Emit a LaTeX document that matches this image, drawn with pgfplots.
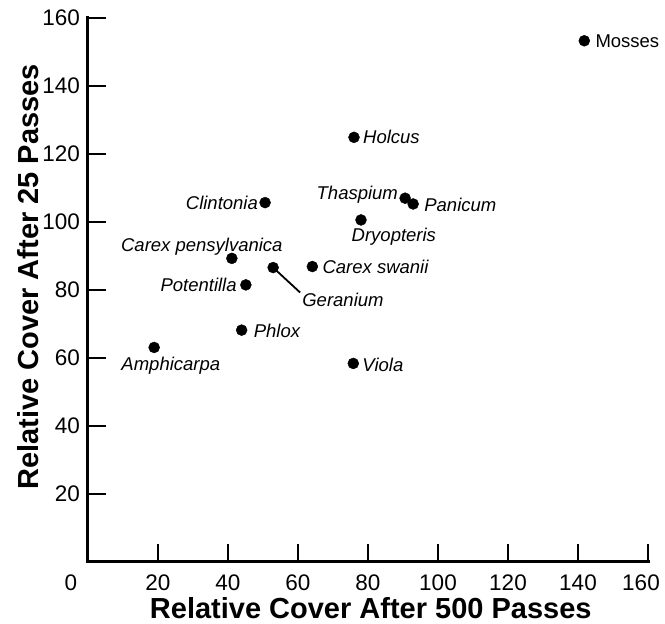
\documentclass[border=0pt]{standalone}
\usepackage{pgfplots}
\pgfplotsset{compat=1.18}
\usepackage{fontspec}
\setmainfont{Liberation Sans}
\tikzset{lbl/.style={font=\fontsize{18.5}{18.5}\selectfont\itshape, inner sep=0pt,
                     text height=13.2pt, text depth=0pt}}
\begin{document}
\begin{tikzpicture}
\useasboundingbox (-88pt,-62pt) rectangle (577pt,562pt);
\begin{axis}[
    scale only axis,
    width=560pt, height=544pt,
    xmin=0, xmax=160,
    ymin=0, ymax=160,
    clip=false,
    axis x line*=bottom,
    axis y line*=left,
    axis line style={line width=3pt, -, line cap=rect},
    xtick={20,40,...,140},
    ytick={20,40,...,160},
    extra x ticks={160},
    extra x tick style={xticklabel style={xshift=-7pt}},
    tick align=inside,
    major tick length=18pt,
    tick style={line width=2.5pt, black},
    /pgf/number format/assume math mode=true,
    ticklabel style={font=\fontsize{22.5}{22.5}\selectfont, inner sep=0pt},
    xticklabel style={anchor=north, yshift=-13pt},
    yticklabel style={anchor=east, xshift=-8pt},
    xlabel={Relative Cover After 500 Passes},
    ylabel={Relative Cover After 25 Passes},
    every axis x label/.style={at={(axis description cs:0.505,-0.085)}, anchor=center,
        font=\fontsize{29}{29}\selectfont\bfseries, inner sep=0pt},
    every axis y label/.style={at={(axis description cs:-0.107,0.524)}, rotate=90, anchor=center,
        font=\fontsize{29}{29}\selectfont\bfseries, inner sep=0pt},
]

\addplot[only marks, mark=*, mark size=5.5pt, black] coordinates {
    (141.8,153.3) % Mosses
    (76.0,124.9)  % Holcus
    (90.6,107.0)  % Thaspium
    (92.9,105.3)  % Panicum
    (50.6,105.7)  % Clintonia
    (78.0,100.6)  % Dryopteris
    (41.1,89.3)   % Carex pensylvanica
    (52.9,86.6)   % Geranium
    (64.1,86.9)   % Carex swanii
    (45.1,81.5)   % Potentilla
    (43.9,68.2)   % Phlox
    (18.9,63.1)   % Amphicarpa
    (75.8,58.4)   % Viola
};

% the 0 of the x axis stands left of the corner
\node[font=\fontsize{22.5}{22.5}\selectfont, inner sep=0pt, anchor=north,
      xshift=-17pt, yshift=-13pt] at (axis cs:0,0) {0};

\draw[line width=1.8pt] (axis cs:52.9,86.6) -- ++(27pt,-25pt);

\node[lbl, anchor=west, xshift=11pt] at (axis cs:141.8,153.3) {\upshape Mosses};
\node[lbl, anchor=west, xshift=9pt] at (axis cs:76.0,124.9) {Holcus};
\node[lbl, anchor=east, xshift=-7pt, yshift=5pt] at (axis cs:90.6,107.0) {Thaspium};
\node[lbl, anchor=west, xshift=11pt, yshift=-1pt] at (axis cs:92.9,105.3) {Panicum};
\node[lbl, anchor=east, xshift=-7pt] at (axis cs:50.6,105.7) {Clintonia};
\node[lbl, anchor=west, xshift=-9.5pt, yshift=-15pt] at (axis cs:78.0,100.6) {Dryopteris};
\node[lbl, anchor=center, xshift=-30pt, yshift=13pt] at (axis cs:41.1,89.3) {Carex pensylvanica};
\node[lbl, anchor=west, xshift=29pt, yshift=-32pt] at (axis cs:52.9,86.6) {Geranium};
\node[lbl, anchor=west, xshift=10pt] at (axis cs:64.1,86.9) {Carex swanii};
\node[lbl, anchor=east, xshift=-9pt] at (axis cs:45.1,81.5) {Potentilla};
\node[lbl, anchor=west, xshift=12pt, yshift=-1pt] at (axis cs:43.9,68.2) {Phlox};
\node[lbl, anchor=center, xshift=16.7pt, yshift=-16pt] at (axis cs:18.9,63.1) {Amphicarpa};
\node[lbl, anchor=west, xshift=9pt, yshift=-1.5pt] at (axis cs:75.8,58.4) {Viola};

\end{axis}
\end{tikzpicture}
\end{document}
